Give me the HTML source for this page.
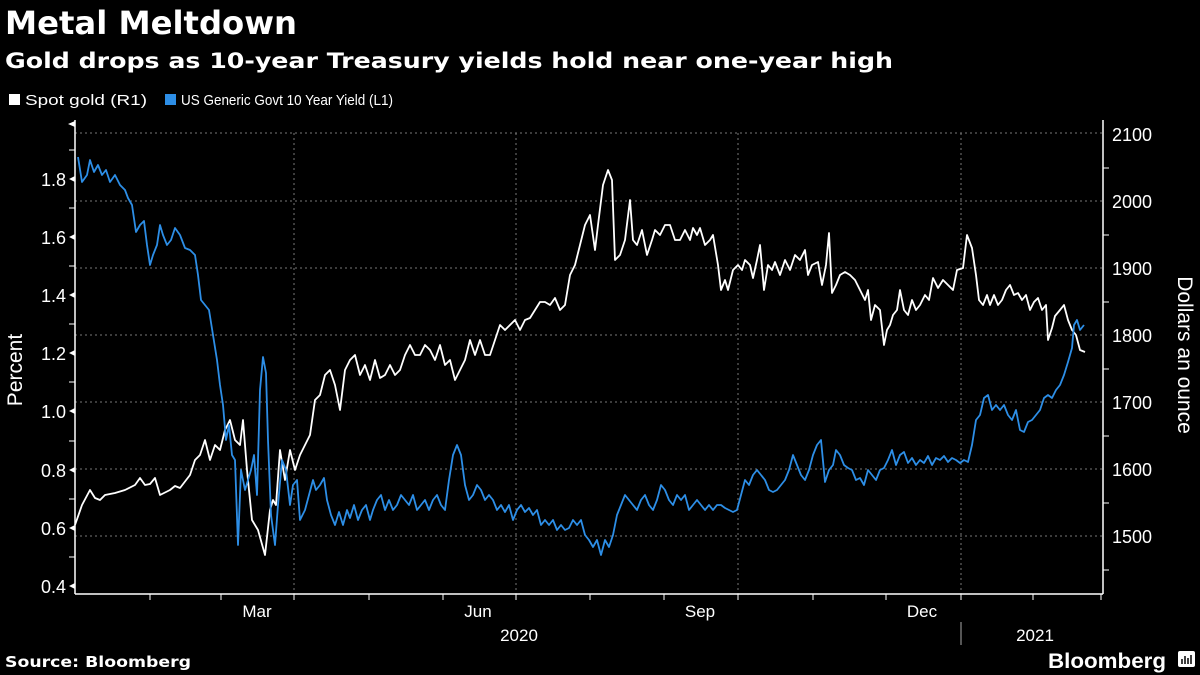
<!DOCTYPE html>
<html><head><meta charset="utf-8"><style>
body{margin:0;background:#000;width:1200px;height:675px;overflow:hidden;font-family:"Liberation Sans",sans-serif;color:#fff}
</style></head><body>
<svg width="1200" height="675" xmlns="http://www.w3.org/2000/svg" style="position:absolute;left:0;top:0">
<rect width="1200" height="675" fill="#000"/>
<text x="5" y="34" font-size="32" font-weight="bold" fill="#fff" font-family="DejaVu Sans, sans-serif" textLength="292" lengthAdjust="spacingAndGlyphs">Metal Meltdown</text>
<text x="5" y="68" font-size="21" font-weight="bold" fill="#fff" font-family="DejaVu Sans, sans-serif" textLength="888" lengthAdjust="spacingAndGlyphs">Gold drops as 10-year Treasury yields hold near one-year high</text>
<rect x="9" y="94" width="11" height="11" fill="#fff"/>
<text x="25" y="105" font-size="15" fill="#fff" textLength="122" lengthAdjust="spacingAndGlyphs">Spot gold (R1)</text>
<rect x="165" y="94" width="11" height="11" fill="#2d8ee6"/>
<text x="181" y="105" font-size="15" fill="#fff" textLength="212" lengthAdjust="spacingAndGlyphs">US Generic Govt 10 Year Yield  (L1)</text>
<g stroke="#777" stroke-dasharray="2,3" stroke-width="1">
<line x1="75" y1="133" x2="1103" y2="133"/><line x1="75" y1="201" x2="1103" y2="201"/><line x1="75" y1="268" x2="1103" y2="268"/><line x1="75" y1="335" x2="1103" y2="335"/><line x1="75" y1="402" x2="1103" y2="402"/><line x1="75" y1="469" x2="1103" y2="469"/><line x1="75" y1="536" x2="1103" y2="536"/>
<line x1="294" y1="133" x2="294" y2="594"/><line x1="516" y1="133" x2="516" y2="594"/><line x1="738" y1="133" x2="738" y2="594"/><line x1="961" y1="133" x2="961" y2="594"/>
</g>
<g stroke="#fff" stroke-width="1.5" fill="none">
<line x1="75" y1="120" x2="75" y2="594"/><line x1="75" y1="594" x2="1103" y2="594"/><line x1="1103" y1="120" x2="1103" y2="594"/>
<line x1="961" y1="622" x2="961" y2="645" stroke="#aaa" stroke-width="1"/>
</g>
<g stroke="#fff" stroke-width="1">
<line x1="150" y1="594" x2="150" y2="600"/><line x1="221" y1="594" x2="221" y2="600"/><line x1="294" y1="594" x2="294" y2="600"/><line x1="369" y1="594" x2="369" y2="600"/><line x1="443" y1="594" x2="443" y2="600"/><line x1="516" y1="594" x2="516" y2="600"/><line x1="590" y1="594" x2="590" y2="600"/><line x1="664" y1="594" x2="664" y2="600"/><line x1="738" y1="594" x2="738" y2="600"/><line x1="813" y1="594" x2="813" y2="600"/><line x1="886" y1="594" x2="886" y2="600"/><line x1="961" y1="594" x2="961" y2="600"/><line x1="1033" y1="594" x2="1033" y2="600"/><line x1="1101" y1="594" x2="1101" y2="600"/>
<line x1="69" y1="150" x2="75" y2="150"/><line x1="69" y1="208" x2="75" y2="208"/><line x1="69" y1="266" x2="75" y2="266"/><line x1="69" y1="324" x2="75" y2="324"/><line x1="69" y1="382" x2="75" y2="382"/><line x1="69" y1="441" x2="75" y2="441"/><line x1="69" y1="499" x2="75" y2="499"/><line x1="69" y1="557" x2="75" y2="557"/>
<line x1="1103" y1="168" x2="1109" y2="168"/><line x1="1103" y1="235" x2="1109" y2="235"/><line x1="1103" y1="302" x2="1109" y2="302"/><line x1="1103" y1="369" x2="1109" y2="369"/><line x1="1103" y1="436" x2="1109" y2="436"/><line x1="1103" y1="503" x2="1109" y2="503"/><line x1="1103" y1="570" x2="1109" y2="570"/>
</g>
<g fill="#fff"><path d="M75,121 l-7,3 l7,3z"/><path d="M75,176 l-6,3 l6,3z"/><path d="M75,234 l-6,3 l6,3z"/><path d="M75,292 l-6,3 l6,3z"/><path d="M75,350 l-6,3 l6,3z"/><path d="M75,408 l-6,3 l6,3z"/><path d="M75,467 l-6,3 l6,3z"/><path d="M75,525 l-6,3 l6,3z"/><path d="M75,583 l-6,3 l6,3z"/></g>
<g font-size="18" fill="#fff" text-anchor="end">
<text x="66" y="186">1.8</text><text x="66" y="244">1.6</text><text x="66" y="302">1.4</text><text x="66" y="360">1.2</text><text x="66" y="418">1.0</text><text x="66" y="477">0.8</text><text x="66" y="535">0.6</text><text x="66" y="593">0.4</text>
</g>
<g font-size="18" fill="#fff">
<text x="1112" y="141">2100</text><text x="1112" y="208">2000</text><text x="1112" y="275">1900</text><text x="1112" y="342">1800</text><text x="1112" y="409">1700</text><text x="1112" y="476">1600</text><text x="1112" y="543">1500</text>
</g>
<g font-size="17" fill="#fff" text-anchor="middle">
<text x="257" y="617">Mar</text><text x="478" y="617">Jun</text><text x="700" y="617">Sep</text><text x="922" y="617">Dec</text>
<text x="519" y="641">2020</text><text x="1035" y="641">2021</text>
</g>
<text transform="translate(22,370) rotate(-90)" font-size="21" fill="#fff" text-anchor="middle">Percent</text>
<text transform="translate(1178,355) rotate(90)" font-size="21" fill="#fff" text-anchor="middle">Dollars an ounce</text>
<text x="5" y="667" font-size="15" font-weight="bold" fill="#fff" font-family="DejaVu Sans, sans-serif" textLength="186" lengthAdjust="spacingAndGlyphs">Source: Bloomberg</text>
<text x="1048" y="668" font-size="21" font-weight="bold" fill="#fff" textLength="118" lengthAdjust="spacingAndGlyphs">Bloomberg</text>
<rect x="1178" y="651" width="17" height="16" rx="2" fill="#fff"/>
<g stroke="#000" stroke-width="1.5"><line x1="1182" y1="664" x2="1182" y2="659"/><line x1="1185" y1="664" x2="1185" y2="656"/><line x1="1188" y1="664" x2="1188" y2="658"/><line x1="1191" y1="664" x2="1191" y2="655"/></g>
<polyline fill="none" stroke="#fff" stroke-width="1.8" stroke-linejoin="round" points="75,525 82,505 90,490 95,498 100,500 105,495 115,493 125,490 135,485 140,478 145,485 150,484 155,478 160,495 170,490 175,486 180,488 190,475 195,460 200,455 205,440 210,460 215,445 220,450 225,430 230,420 235,440 240,445 243,420 247,470 252,520 258,530 265,555 270,510 273,500 276,505 280,450 285,480 290,450 295,470 300,455 305,445 310,435 315,400 320,395 325,375 330,370 335,385 340,410 345,370 350,360 355,355 360,375 365,365 370,380 375,360 380,378 385,375 390,365 395,375 400,370 405,355 410,345 415,355 420,355 425,345 430,350 435,360 440,345 445,365 450,360 455,380 460,370 465,360 470,340 475,355 480,340 485,355 490,355 495,340 500,325 505,330 510,325 515,320 520,330 525,320 530,318 535,310 540,302 545,302 550,305 555,298 560,310 565,305 570,275 575,265 580,245 585,225 590,215 595,250 598,225 603,185 608,170 612,180 615,260 620,255 625,240 630,200 633,240 637,245 642,230 647,255 652,240 655,230 660,235 665,225 670,225 675,240 680,240 685,230 690,240 693,228 697,235 700,228 705,245 710,240 713,235 718,265 721,290 725,280 728,290 733,270 738,265 742,270 745,260 750,265 753,278 757,260 760,245 764,290 768,265 772,270 775,262 780,275 785,260 790,270 795,255 800,260 805,250 808,275 812,265 818,262 822,285 826,265 829,233 832,293 836,285 840,275 845,272 850,275 855,280 860,290 865,300 868,290 871,320 875,305 880,310 884,345 887,330 890,325 893,315 897,310 900,290 904,310 908,315 912,300 916,310 920,305 925,295 929,300 933,278 938,288 943,280 948,285 953,290 957,270 963,268 967,235 972,248 976,275 979,300 983,305 987,295 990,305 994,295 998,305 1002,300 1006,290 1010,285 1014,295 1018,293 1022,300 1026,295 1030,310 1034,302 1038,298 1042,310 1046,305 1048,340 1052,328 1055,316 1060,310 1064,305 1068,320 1072,330 1076,335 1080,350 1085,352"/>
<polyline fill="none" stroke="#2d8ee6" stroke-width="1.8" stroke-linejoin="round" points="78,157 82,182 87,175 90,160 94,172 98,165 102,175 106,170 110,182 115,175 120,185 125,190 128,198 132,205 136,232 140,225 144,221 147,245 150,265 153,255 157,245 160,225 163,235 167,245 171,240 175,228 180,235 185,248 190,250 195,255 198,275 201,300 205,305 209,310 213,335 217,360 220,385 223,405 226,440 229,425 232,455 235,460 238,545 241,470 245,490 248,480 251,470 254,455 257,495 260,390 263,357 266,373 268,440 271,515 275,545 278,505 282,460 286,470 290,505 293,485 297,480 300,520 305,510 309,495 313,480 316,490 320,485 324,478 327,500 331,515 335,525 339,512 343,525 347,510 350,518 354,505 358,520 362,510 366,505 370,520 373,510 377,500 381,495 385,510 389,500 393,510 397,505 401,495 405,500 409,505 413,495 417,510 421,505 425,500 429,510 433,500 437,495 441,505 445,510 449,480 453,455 457,445 461,455 465,485 469,500 473,495 477,485 481,490 485,500 489,495 493,500 497,510 501,505 505,512 509,505 513,520 517,510 521,505 525,512 529,508 533,515 537,510 541,525 545,520 549,525 553,520 557,530 561,525 565,530 569,528 573,520 577,525 581,520 585,535 589,540 593,547 597,540 601,555 605,540 609,547 613,535 617,515 621,505 625,495 629,500 633,505 637,510 641,500 645,495 649,505 653,510 657,500 661,485 665,490 669,500 673,505 677,495 681,500 685,495 689,510 693,505 697,500 701,505 705,510 709,505 713,510 717,505 721,505 725,508 729,510 733,512 737,510 741,495 745,480 749,485 753,475 757,470 761,475 765,480 769,490 773,492 777,490 781,485 785,480 789,470 793,455 797,465 801,475 805,480 809,470 813,455 817,445 821,440 825,482 829,470 833,465 836,450 840,455 844,465 848,468 852,470 856,480 860,478 864,485 868,470 872,475 876,480 880,470 884,468 888,460 892,450 896,465 900,455 904,452 908,463 912,458 916,465 920,460 924,463 928,456 932,465 936,458 940,460 944,456 948,462 952,458 956,460 960,463 964,460 968,462 972,445 976,420 980,415 984,398 988,395 992,410 996,405 1000,410 1004,405 1008,415 1012,420 1016,410 1020,430 1024,432 1028,422 1032,420 1036,415 1040,410 1044,398 1048,395 1052,398 1056,390 1060,385 1064,375 1068,362 1072,348 1074,325 1077,320 1080,330 1084,325"/>
</svg>
</body></html>
